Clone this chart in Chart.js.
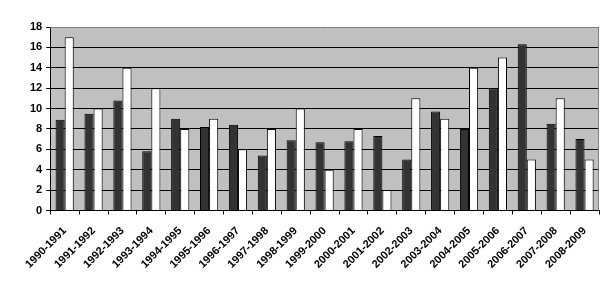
<!DOCTYPE html>
<html>
<head>
<meta charset="utf-8">
<script src="https://cdn.jsdelivr.net/npm/chart.js@4"></script>
<style>
  html, body { margin: 0; padding: 0; background: #fff; }
  #wrap { width: 613px; height: 292px; position: relative; }
</style>
</head>
<body>
<div id="wrap"><canvas id="c"></canvas></div>
<script>
// seasons on the x axis
const seasons = [
  '1990-1991', '1991-1992', '1992-1993', '1993-1994', '1994-1995',
  '1995-1996', '1996-1997', '1997-1998', '1998-1999', '1999-2000',
  '2000-2001', '2001-2002', '2002-2003', '2003-2004', '2004-2005',
  '2005-2006', '2006-2007', '2007-2008', '2008-2009'
];
// dark series
const seriesDark  = [8.9, 9.5, 10.8, 5.8, 9.0, 8.2, 8.4, 5.4, 6.9, 6.7, 6.8, 7.3, 5.0, 9.7, 8.0, 12.0, 16.3, 8.5, 7.0];
// white series
const seriesWhite = [17, 10, 14, 12, 8, 9, 6, 8, 10, 4, 8, 2, 11, 9, 14, 15, 5, 11, 5];
const yMin = 0, yMax = 18, yStep = 2;

// ── grey plot background + grey top/right frame ─────────────
const plotBg = {
  id: 'plotBg',
  beforeDraw(chart) {
    const { ctx, chartArea: a } = chart;
    ctx.save();
    ctx.fillStyle = '#c0c0c0';
    ctx.fillRect(a.left, a.top, a.right - a.left, a.bottom - a.top);
    ctx.restore();
  },
  afterDatasetsDraw(chart) {
    const { ctx, chartArea: a } = chart;
    ctx.save();
    ctx.strokeStyle = '#808080';
    ctx.lineWidth = 1;
    ctx.beginPath();
    ctx.moveTo(a.left, a.top + 0.5);
    ctx.lineTo(a.right - 0.5, a.top + 0.5);
    ctx.lineTo(a.right - 0.5, a.bottom);
    ctx.stroke();
    ctx.restore();
  }
};

const tickFont = { family: 'Liberation Sans, Arial, sans-serif', size: 11, weight: 'bold' };

new Chart(document.getElementById('c').getContext('2d'), {
  type: 'bar',
  data: {
    labels: seasons,
    datasets: [
      { data: seriesDark,  backgroundColor: '#333333', borderColor: '#000', borderWidth: 1 },
      { data: seriesWhite, backgroundColor: '#ffffff', borderColor: '#000', borderWidth: 1 },
    ]
  },
  options: {
    responsive: true, maintainAspectRatio: false, animation: false,
    layout: { padding: { left: 26, right: 14, top: 27, bottom: 11 } },
    plugins: { legend: { display: false }, tooltip: { enabled: false } },
    datasets: { bar: { barPercentage: 1, categoryPercentage: 0.63 } },
    scales: {
      x: {
        grid: { drawOnChartArea: false, drawTicks: true, tickLength: 4, color: '#000' },
        border: { color: '#000' },
        ticks: { color: '#000', font: tickFont, minRotation: 45, maxRotation: 45, autoSkip: false, padding: 10 },
      },
      y: {
        min: yMin, max: yMax,
        grid: { color: '#000', tickLength: 4 },
        border: { color: '#000' },
        ticks: { color: '#000', font: tickFont, stepSize: yStep, padding: 4 },
      }
    }
  },
  plugins: [plotBg]
});
</script>
</body>
</html>
